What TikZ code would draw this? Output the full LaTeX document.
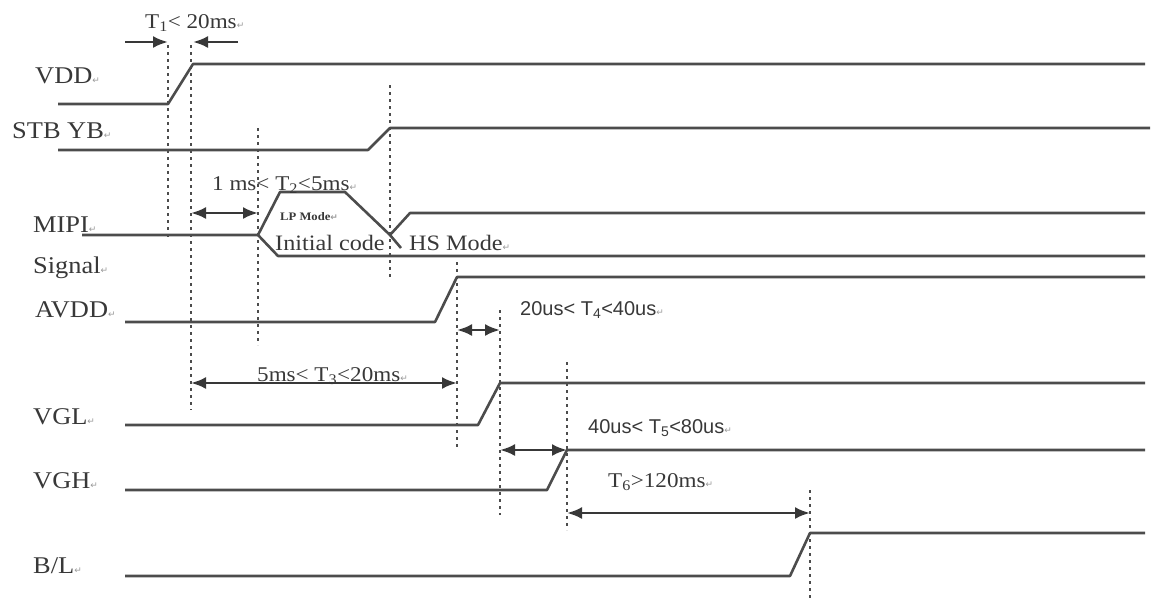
\documentclass[tikz,border=0pt]{standalone}
\usepackage{fontspec}
\setmainfont[FakeStretch=1.1]{Liberation Serif}
\newfontfamily\arial{Liberation Sans}
\newfontfamily\dejavu{DejaVu Sans}
\usetikzlibrary{arrows.meta}
\definecolor{ink}{HTML}{383838}
\definecolor{wire}{HTML}{4C4C4C}
\newcommand{\rmark}{{\dejavu\fontsize{9}{9}\selectfont\color{gray!80}↵}}
\tikzset{
  lbl/.style={inner sep=0pt, anchor=base west, text=ink, font=\fontsize{24}{24}\selectfont},
  tlbl/.style={inner sep=0pt, anchor=base west, text=ink, font=\fontsize{21}{21}\selectfont},
  slbl/.style={inner sep=0pt, anchor=base west, text=ink, font=\arial\fontsize{20}{20}\selectfont},
  sig/.style={draw=wire, line width=2.6pt, line join=round},
  guide/.style={draw=wire, line width=2.8pt, dash pattern=on 2.6pt off 4.4pt},
  tip/.tip={Latex[length=15pt,width=12pt]},
  dim/.style={draw=ink, line width=2.6pt, tip-tip},
  rarr/.style={draw=ink, line width=2.6pt, -tip},
}
\begin{document}
\begin{tikzpicture}[x=1pt,y=-1pt]
\useasboundingbox (0,0) rectangle (1162,598);

% signal names
\node[lbl] (nVDD) at (35,83) {VDD\rmark};
\node[lbl] (nSTB) at (12,138) {STB YB\rmark};
\node[lbl] (nMIPI) at (33,232) {MIPI\rmark};
\node[lbl] (nSig) at (33,273) {Signal\rmark};
\node[lbl] (nAVDD) at (35,317) {AVDD\rmark};
\node[lbl] (nVGL) at (33,424) {VGL\rmark};
\node[lbl] (nVGH) at (33,488) {VGH\rmark};
\node[lbl] (nBL) at (33,573) {B/L\rmark};

% dotted guides
\draw[guide] (168,45) -- (168,240);
\draw[guide] (191,45) -- (191,410);
\draw[guide] (258,128) -- (258,345);
\draw[guide] (390,85) -- (390,280);
\draw[guide] (457,262) -- (457,450);
\draw[guide] (500,310) -- (500,515);
\draw[guide] (567,362) -- (567,530);
\draw[guide] (810,490) -- (810,598);

% waveforms
\draw[sig] (58,104) -- (168,104) -- (193,64) -- (1145,64);
\draw[sig] (58,150) -- (368,150) -- (390,128) -- (1150,128);
\draw[sig] (82,235) -- (258,235) -- (280,192) -- (345,192) -- (390,235) -- (410,213) -- (1145,213);
\draw[sig] (258,235) -- (278,256) -- (1145,256);
\draw[sig] (390,235) -- (401,248);
\draw[sig] (125,322) -- (435,322) -- (457,277) -- (1145,277);
\draw[sig] (125,425) -- (478,425) -- (500,383) -- (1145,383);
\draw[sig] (125,490) -- (547,490) -- (567,450) -- (1145,450);
\draw[sig] (125,576) -- (790,576) -- (810,533) -- (1145,533);

% MIPI annotations
\node[inner sep=0pt, anchor=base west, text=ink, font=\bfseries\fontsize{11.5}{11.5}\selectfont] (lp) at (280,220) {LP Mode\rmark};
\node[tlbl, font=\fontsize{22}{22}\selectfont] (ic) at (275,250) {Initial code};
\node[tlbl, font=\fontsize{22}{22}\selectfont] (hs) at (409,250) {HS Mode\rmark};

% T1
\coordinate (t1a) at (125,42);
\coordinate (t1b) at (168,42);
\coordinate (t1c) at (238,42);
\coordinate (t1d) at (193,42);
\draw[rarr] (t1a) -- (t1b);
\draw[rarr] (t1c) -- (t1d);
\node[tlbl] (T1) at (145,28) {T\textsubscript{1}< 20ms\rmark};

% T2
\coordinate (t2a) at (191,213);
\coordinate (t2b) at (258,213);
\draw[dim] (t2a) -- (t2b);
\node[tlbl] (T2) at (212,190) {1 ms< T\textsubscript{2}<5ms\rmark};

% T3
\coordinate (t3a) at (191,383);
\coordinate (t3b) at (457,383);
\draw[dim] (t3a) -- (t3b);
\node[tlbl] (T3) at (257,381) {5ms< T\textsubscript{3}<20ms\rmark};

% T4
\coordinate (t4a) at (457,330);
\coordinate (t4b) at (500,330);
\draw[dim] (t4a) -- (t4b);
\node[slbl] (T4) at (520,315) {20us< T\textsubscript{4}<40us\rmark};

% T5
\coordinate (t5a) at (500,450);
\coordinate (t5b) at (567,450);
\draw[dim] (t5a) -- (t5b);
\node[slbl] (T5) at (588,433) {40us< T\textsubscript{5}<80us\rmark};

% T6
\coordinate (t6a) at (567,513);
\coordinate (t6b) at (810,513);
\draw[dim] (t6a) -- (t6b);
\node[tlbl] (T6) at (608,487) {T\textsubscript{6}>120ms\rmark};
\end{tikzpicture}
\end{document}
